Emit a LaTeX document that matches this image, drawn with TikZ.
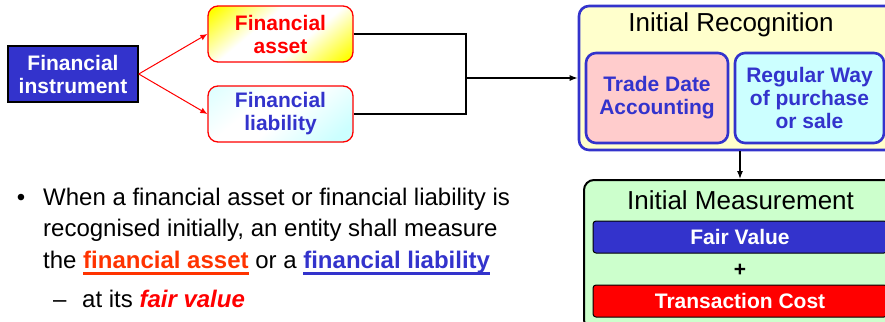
\documentclass[tikz,border=0pt]{standalone}
\usepackage{fontspec}
\setmainfont{Liberation Sans}
\usetikzlibrary{arrows.meta,positioning}
\definecolor{fiblue}{HTML}{3333CC}
\definecolor{fired}{HTML}{FF0000}
\definecolor{fiorange}{HTML}{FF3300}
\definecolor{paleyellow}{HTML}{FFFFCC}
\definecolor{palepink}{HTML}{FFCCCC}
\definecolor{palecyan}{HTML}{CCFFFF}
\definecolor{palegreen}{HTML}{CCFFCC}
\pgfdeclarehorizontalshading{assetshade}{100bp}{color(0bp)=(yellow); color(18bp)=(yellow); color(40bp)=(white); color(60bp)=(white); color(82bp)=(yellow); color(100bp)=(yellow)}
\pgfdeclarehorizontalshading{liabshade}{100bp}{color(0bp)=(palecyan); color(18bp)=(palecyan!60); color(38bp)=(white); color(52bp)=(white); color(78bp)=(palecyan); color(100bp)=(palecyan)}
\newsavebox{\ulbox}
\newcommand{\ulcol}[2]{\textcolor{#1}{\textbf{\sbox{\ulbox}{#2}\rlap{\rule[-6.5pt]{\wd\ulbox}{3pt}}\usebox{\ulbox}}}}

\begin{document}
\begin{tikzpicture}[
      x=1pt, y=-1pt,
      font=\fontsize{21}{23}\selectfont\bfseries,
      box/.style={rounded corners=10pt, align=center, inner sep=0pt},
      itembox/.style={box, draw=fired, line width=1.3pt, minimum width=145pt, minimum height=56pt},
      innerbox/.style={box, draw=fiblue, line width=2.6pt, text=fiblue, minimum height=90pt},
      bar/.style={rounded corners=3pt, draw=black, line width=1pt, text=white, minimum width=294pt, minimum height=32pt, inner sep=0pt},
      title/.style={font=\fontsize{26}{28}\selectfont},
      redarrow/.style={-{Latex[length=7pt,width=6pt]}, draw=fired, line width=1pt},
      arrow/.style={-{Latex[length=8pt,width=6pt]}, line width=1.2pt},
      link/.style={line width=1.2pt}
    ]
    \clip (0,0) rectangle (885,321);
    % left part: instrument and its two kinds
    \node[draw=black, line width=1.5pt, fill=fiblue, text=white, align=center, inner sep=0pt,
          minimum width=130pt, minimum height=56pt] (instr) at (73,74) {Financial\\instrument};
    \node[itembox, shading=assetshade, shading angle=-50, text=fired] (asset) at (280.5,34) {Financial\\asset};
    \node[itembox, shading=liabshade, shading angle=-50, text=fiblue] (liab) at (280.5,114) {Financial\\liability};
    \draw[redarrow] (instr.east) -- (asset.west);
    \draw[redarrow] (instr.east) -- (liab.west);
    \coordinate (join) at (466,78);
    \draw[link] (asset.east) -| (join) |- (liab.east);
    % recognition
    \node[box, draw=fiblue, line width=2.6pt, fill=paleyellow, minimum width=322pt, minimum height=144pt] (recog) at (740,78) {};
    \node[title] (recogtitle) at (731,25) {Initial Recognition};
    \node[innerbox, fill=palepink, minimum width=142pt] (trade) at (657,98) {Trade Date\\Accounting};
    \node[innerbox, fill=palecyan, minimum width=149pt] (regular) at (809.5,98) {Regular Way\\of purchase\\or sale};
    \draw[arrow] (join) -- (recog.west);
    % measurement
    \node[box, draw=black, line width=2pt, fill=palegreen, minimum width=312pt, minimum height=150pt] (measure) at (740,255) {};
    \draw[arrow] (recog.south) -- (measure.north);
    \node[title] (meastitle) at (740.5,200) {Initial Measurement};
    \node[bar, fill=fiblue] (fair) at (740,237) {Fair Value};
    \node (plus) at (740,270) {+};
    \node[bar, fill=fired] (cost) at (740,301) {Transaction Cost};
    % bullet text
    \begin{scope}[font=\fontsize{24}{31.5}\selectfont]
      \node[anchor=base] (dot) at (21,205) {\textbullet};
      \node[anchor=base west, align=left, inner sep=0pt] (stmt) at (43,268)
        {When a financial asset or financial liability is\\
         recognised initially, an entity shall measure\\
         the \ulcol{fiorange}{financial asset} or a \ulcol{fiblue}{financial liability}};
      \node[anchor=base west, inner sep=0pt] (dash) at (53,307) {--};
      \node[anchor=base west, inner sep=0pt] (sub) at (82,307) {at its \textcolor{fired}{\textbf{\textit{fair value}}}};
    \end{scope}
  \end{tikzpicture}
\end{document}
